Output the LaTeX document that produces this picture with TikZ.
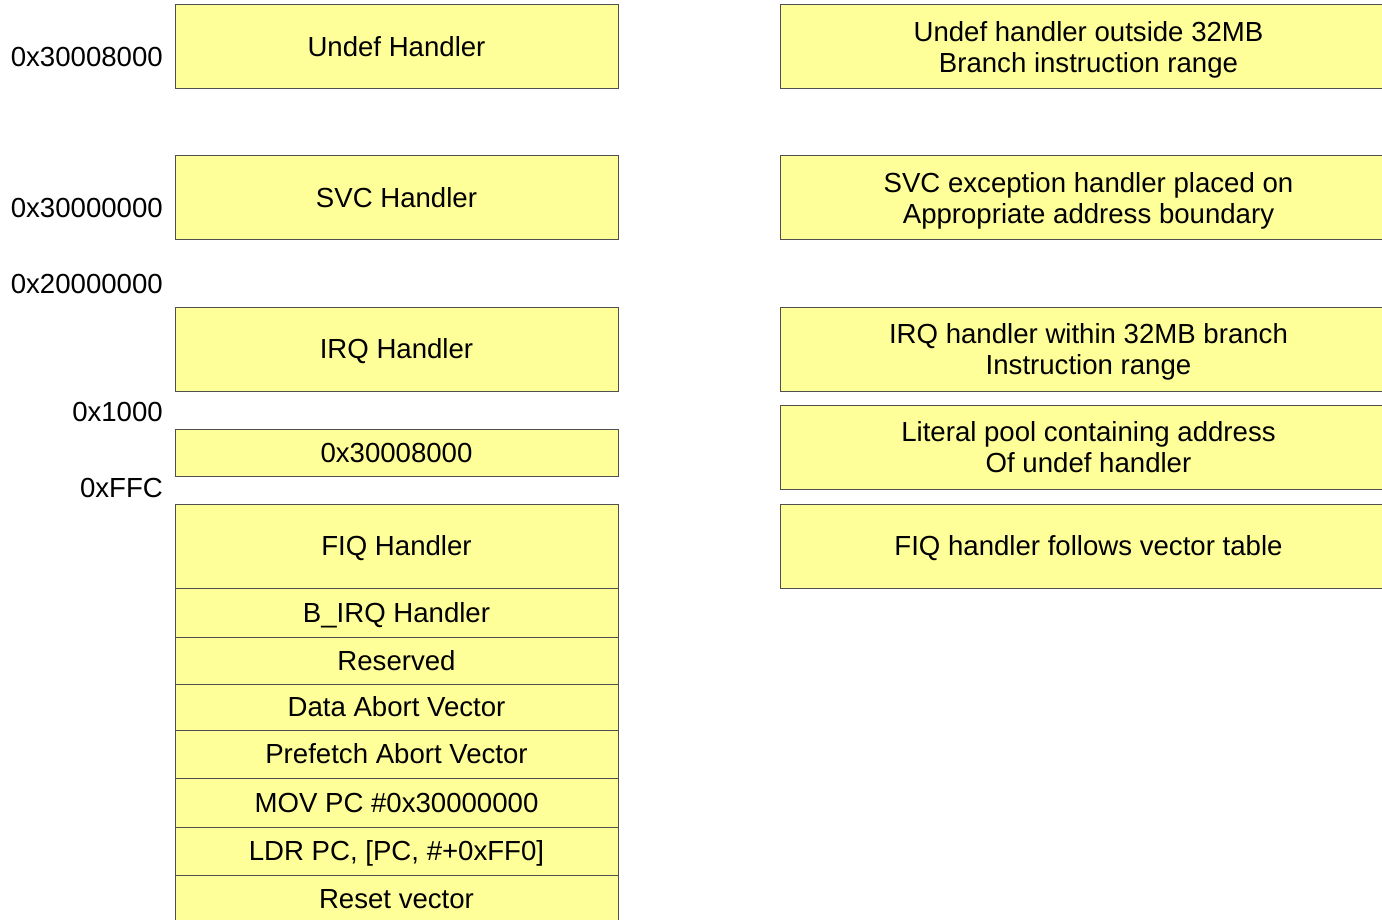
\documentclass[tikz,border=0pt]{standalone}
\usepackage{fontspec}
\setmainfont{Liberation Sans}
\definecolor{cellfill}{HTML}{FFFF99}
\definecolor{cellline}{HTML}{505050}
% invisible line strut: full ascent and descent of the face
\newcommand\lnstrut{\rule[-0.212em]{0pt}{1.117em}}
\begin{document}
\begin{tikzpicture}[x=1pt,y=1pt,
  cell/.style={draw=cellline, fill=cellfill, line width=1pt, inner sep=0pt,
    align=center, font=\fontsize{27.6}{31}\selectfont},
  lcell/.style={cell, minimum width=443pt},
  rcell/.style={cell, minimum width=617pt, minimum height=84pt},
  addr/.style={anchor=east, inner sep=0pt, font=\fontsize{27.6}{31}\selectfont}]
\clip (0,0) rectangle (1382,-920);
% memory map column
\node[lcell, minimum height=84pt] (undef) at (396.5,-47) {\lnstrut Undef Handler};
\node[lcell, minimum height=84pt] (svc) at (396.5,-198) {\lnstrut SVC Handler};
\node[lcell, minimum height=84pt] (irq) at (396.5,-349) {\lnstrut IRQ Handler};
\node[lcell, minimum height=47pt] (lit) at (396.5,-452.5) {\lnstrut 0x30008000};
\node[lcell, minimum height=84pt] (fiq) at (396.5,-546) {\lnstrut FIQ Handler};
\node[lcell, minimum height=49pt] (birq) at (396.5,-612.5) {\lnstrut B\_IRQ Handler};
\node[lcell, minimum height=47pt] (resv) at (396.5,-660.5) {\lnstrut Reserved};
\node[lcell, minimum height=46pt] (dabt) at (396.5,-707) {\lnstrut Data Abort Vector};
\node[lcell, minimum height=48pt] (pabt) at (396.5,-754) {\lnstrut Prefetch Abort Vector};
\node[lcell, minimum height=49pt] (mov) at (396.5,-802.5) {\lnstrut MOV PC \#0x30000000};
\node[lcell, minimum height=48pt] (ldr) at (396.5,-851) {\lnstrut LDR PC, [PC, \#+0xFF0]};
\node[lcell, minimum height=48pt] (reset) at (396.5,-899) {\lnstrut Reset vector};
% addresses
\node[addr] (a1) at (163,-57) {0x30008000};
\node[addr] (a2) at (163,-208) {0x30000000};
\node[addr] (a3) at (163,-284) {0x20000000};
\node[addr] (a4) at (163,-412) {0x1000};
\node[addr] (a5) at (163,-488) {0xFFC};
% notes column
\node[rcell] (n1) at (1088.5,-47) {\lnstrut Undef handler outside 32MB\\\lnstrut Branch instruction range};
\node[rcell] (n2) at (1088.5,-198) {\lnstrut SVC exception handler placed on\\\lnstrut Appropriate address boundary};
\node[rcell] (n3) at (1088.5,-349) {\lnstrut IRQ handler within 32MB branch\\\lnstrut Instruction range};
\node[rcell] (n4) at (1088.5,-447) {\lnstrut Literal pool containing address\\\lnstrut Of undef handler};
\node[rcell] (n5) at (1088.5,-546) {\lnstrut FIQ handler follows vector table};
\end{tikzpicture}
\end{document}
